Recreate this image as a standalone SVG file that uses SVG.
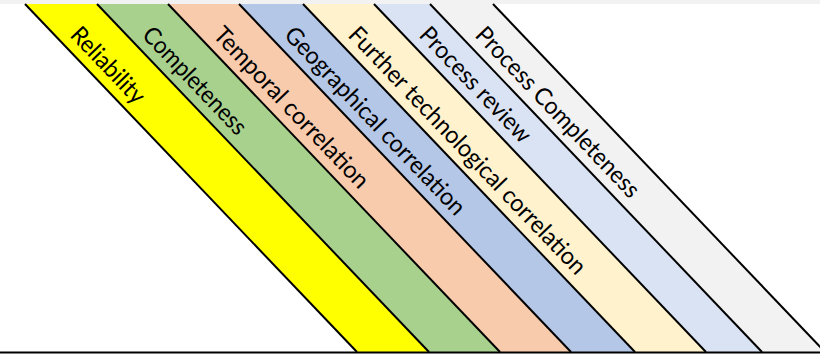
<svg xmlns="http://www.w3.org/2000/svg" width="820" height="354" viewBox="0 0 820 354">
<style>
.lbl{font-family:Lato,"Liberation Sans",sans-serif;font-size:24px;fill:#000}
.edge{stroke:#000;stroke-width:2;fill:none}
</style>
<rect x="0" y="0" width="820" height="354" fill="#fff"/>
<rect x="0" y="0" width="820" height="4" fill="#f2f2f2"/>
<g id="reliability">
<polygon points="25,4 97,4 429,352 357,352" fill="#ffff00"/>
<text class="lbl" transform="translate(69,36) rotate(46.35)" textLength="96" lengthAdjust="spacingAndGlyphs">Reliability</text>
</g>
<g id="completeness">
<polygon points="97,4 168,4 500,352 429,352" fill="#a9d18e"/>
<text class="lbl" transform="translate(141,36) rotate(46.35)" textLength="139" lengthAdjust="spacingAndGlyphs">Completeness</text>
</g>
<g id="temporal">
<polygon points="168,4 239,4 571,352 500,352" fill="#f8cbad"/>
<text class="lbl" transform="translate(212,36) rotate(46.35)" textLength="213" lengthAdjust="spacingAndGlyphs">Temporal correlation</text>
</g>
<g id="geographical">
<polygon points="239,4 303,4 635,352 571,352" fill="#b4c7e7"/>
<text class="lbl" transform="translate(283,36) rotate(46.35)" textLength="250" lengthAdjust="spacingAndGlyphs">Geographical correlation</text>
</g>
<g id="further">
<polygon points="303,4 374,4 706,352 635,352" fill="#fff2cc"/>
<text class="lbl" transform="translate(347,36) rotate(46.35)" textLength="332" lengthAdjust="spacingAndGlyphs">Further technological correlation</text>
</g>
<g id="process-review">
<polygon points="374,4 430,4 762,352 706,352" fill="#dae3f3"/>
<text class="lbl" transform="translate(418,36) rotate(46.35)" textLength="150" lengthAdjust="spacingAndGlyphs">Process review</text>
</g>
<g id="process-completeness">
<polygon points="430,4 493,4 825,352 762,352" fill="#f2f2f2"/>
<text class="lbl" transform="translate(474,36) rotate(46.35)" textLength="226" lengthAdjust="spacingAndGlyphs">Process Completeness</text>
</g>
<g id="lines">
<line class="edge" x1="25" y1="4" x2="357" y2="352"/>
<line class="edge" x1="97" y1="4" x2="429" y2="352"/>
<line class="edge" x1="168" y1="4" x2="500" y2="352"/>
<line class="edge" x1="239" y1="4" x2="571" y2="352"/>
<line class="edge" x1="303" y1="4" x2="635" y2="352"/>
<line class="edge" x1="374" y1="4" x2="706" y2="352"/>
<line class="edge" x1="430" y1="4" x2="762" y2="352"/>
<line class="edge" x1="493" y1="4" x2="825" y2="352"/>
<line class="edge" x1="0" y1="352.5" x2="820" y2="352.5"/>
</g>
</svg>
